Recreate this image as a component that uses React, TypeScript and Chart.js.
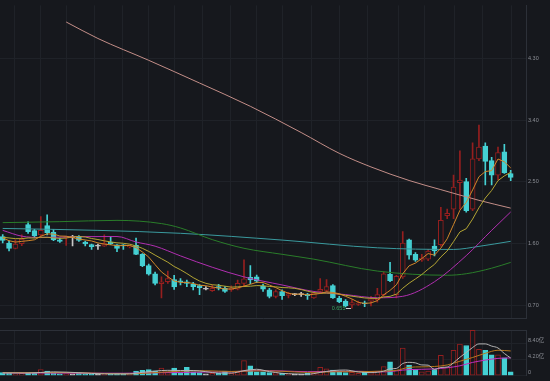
import React, { useEffect, useRef } from "react";
import { Chart, registerables } from "chart.js";

Chart.register(...registerables);

// ---------- data ----------
const openP = [1.7, 1.606, 1.526, 1.597, 1.876, 1.786, 1.724, 1.861, 1.762, 1.653,
  1.68, 1.687, 1.7, 1.621, 1.582, 1.56, 1.56, 1.621, 1.578, 1.578,
  1.55, 1.574, 1.441, 1.276, 1.157, 1.012, 1.04, 1.073, 1.054, 1.04,
  1.002, 0.983, 0.931, 0.908, 0.969, 0.945, 0.922, 0.931, 1.016, 1.104,
  1.111, 0.976, 0.922, 0.827, 0.898, 0.842, 0.852, 0.852, 0.86, 0.803,
  0.898, 0.912, 0.983, 0.803, 0.757, 0.7, 0.71, 0.728, 0.757, 0.778,
  0.852, 1.149, 0.852, 1.111, 1.653, 1.441, 1.356, 1.37, 1.56, 1.582,
  2.007, 2.102, 2.489, 2.503, 2.102, 2.835, 3.023, 2.81, 2.598, 2.938,
  2.622];
const highP = [1.73, 1.639, 1.653, 1.724, 1.914, 1.805, 1.993, 2.017, 1.805, 1.677,
  1.705, 1.72, 1.716, 1.635, 1.592, 1.592, 1.724, 1.701, 1.585, 1.585,
  1.575, 1.677, 1.451, 1.299, 1.182, 1.111, 1.196, 1.135, 1.087, 1.064,
  1.03, 0.997, 0.969, 0.993, 1.002, 0.969, 0.979, 1.064, 1.359, 1.276,
  1.139, 1.005, 0.945, 0.922, 0.922, 0.884, 0.866, 0.884, 0.87, 0.898,
  1.087, 1.073, 0.997, 0.827, 0.781, 0.781, 0.757, 0.757, 0.827, 0.945,
  1.182, 1.323, 1.135, 1.772, 1.663, 1.465, 1.441, 1.512, 1.653, 2.126,
  2.102, 2.598, 2.952, 2.551, 3.07, 3.33, 3.07, 2.857, 3.009, 3.047,
  2.669];
const lowP = [1.606, 1.489, 1.52, 1.568, 1.748, 1.68, 1.705, 1.724, 1.639, 1.616,
  1.571, 1.564, 1.63, 1.564, 1.512, 1.512, 1.557, 1.582, 1.479, 1.512,
  1.536, 1.436, 1.262, 1.135, 0.993, 0.803, 1.016, 0.927, 0.993, 0.969,
  0.922, 0.852, 0.922, 0.898, 0.922, 0.884, 0.898, 0.922, 0.979, 1.012,
  1.026, 0.898, 0.803, 0.803, 0.781, 0.803, 0.835, 0.827, 0.781, 0.795,
  0.884, 0.898, 0.795, 0.733, 0.672, 0.655, 0.693, 0.676, 0.686, 0.742,
  0.827, 1.04, 0.803, 1.087, 1.37, 1.337, 1.337, 1.347, 1.418, 1.56,
  1.961, 1.961, 2.102, 2.056, 2.078, 2.81, 2.456, 2.456, 2.527, 2.622,
  2.517];
const closeP = [1.645, 1.526, 1.592, 1.663, 1.772, 1.71, 1.79, 1.758, 1.653, 1.63,
  1.7, 1.687, 1.645, 1.592, 1.554, 1.56, 1.597, 1.597, 1.526, 1.564,
  1.568, 1.441, 1.276, 1.149, 1.016, 1.04, 1.087, 0.965, 1.04, 1.016,
  0.969, 0.955, 0.931, 0.945, 0.945, 0.898, 0.945, 1.016, 1.082, 1.068,
  1.05, 0.931, 0.827, 0.898, 0.837, 0.866, 0.852, 0.852, 0.837, 0.874,
  0.931, 0.969, 0.803, 0.747, 0.686, 0.735, 0.728, 0.718, 0.789, 0.852,
  1.157, 1.054, 1.121, 1.606, 1.427, 1.356, 1.384, 1.489, 1.489, 1.937,
  2.041, 2.424, 2.527, 2.078, 2.835, 3.009, 2.8, 2.598, 2.928, 2.631,
  2.565];
// volume in 亿
const volume = [0.8, 0.7, 0.5, 0.6, 0.9, 0.6, 1.65, 1.2, 0.7, 0.5,
  0.5, 0.5, 0.6, 0.5, 0.4, 0.4, 0.5, 0.5, 0.6, 0.4,
  0.4, 1.2, 1.4, 1.6, 1.2, 2.0, 0.9, 2.0, 0.8, 2.2,
  1.0, 0.8, 0.5, 0.6, 0.6, 1.2, 0.6, 0.9, 4.0, 2.6,
  1.0, 1.0, 0.8, 0.8, 0.6, 0.5, 0.4, 0.4, 0.6, 0.7,
  2.2, 1.8, 1.5, 1.2, 0.8, 0.9, 0.6, 1.0, 0.8, 1.2,
  2.4, 3.7, 1.5, 7.3, 2.8, 1.65, 1.0, 1.2, 1.65, 5.4,
  2.2, 6.7, 8.4, 8.0, 12.0, 7.0, 6.7, 5.5, 5.5, 4.7,
  1.0];

const ma5 = [1.68, 1.64, 1.62, 1.63, 1.64, 1.653, 1.705, 1.739, 1.737, 1.708,
  1.706, 1.686, 1.663, 1.651, 1.636, 1.608, 1.59, 1.58, 1.567, 1.569,
  1.57, 1.539, 1.475, 1.4, 1.29, 1.184, 1.114, 1.051, 1.03, 1.03,
  1.015, 0.989, 0.982, 0.963, 0.949, 0.935, 0.933, 0.95, 0.977, 1.002,
  1.032, 1.029, 0.992, 0.955, 0.909, 0.872, 0.856, 0.861, 0.849, 0.856,
  0.869, 0.893, 0.883, 0.865, 0.827, 0.788, 0.74, 0.723, 0.731, 0.764,
  0.849, 0.914, 0.995, 1.158, 1.273, 1.313, 1.379, 1.452, 1.429, 1.531,
  1.668, 1.876, 2.084, 2.201, 2.381, 2.575, 2.65, 2.664, 2.834, 2.793,
  2.704];
const ma10 = [1.69, 1.68, 1.67, 1.67, 1.68, 1.68, 1.69, 1.69, 1.68, 1.674,
  1.679, 1.696, 1.701, 1.694, 1.672, 1.657, 1.638, 1.622, 1.609, 1.602,
  1.589, 1.564, 1.528, 1.483, 1.429, 1.377, 1.326, 1.263, 1.215, 1.16,
  1.1, 1.051, 1.017, 0.996, 0.989, 0.975, 0.961, 0.966, 0.97, 0.975,
  0.984, 0.981, 0.971, 0.966, 0.955, 0.952, 0.943, 0.926, 0.902, 0.882,
  0.871, 0.874, 0.872, 0.857, 0.842, 0.829, 0.816, 0.803, 0.798, 0.796,
  0.818, 0.827, 0.859, 0.945, 1.019, 1.081, 1.146, 1.224, 1.294, 1.402,
  1.49, 1.627, 1.768, 1.815, 1.956, 2.121, 2.263, 2.374, 2.518, 2.587,
  2.64];
const ma30Idx = [0, 3, 6, 12, 18, 21, 24, 28, 33, 38, 44, 49, 54, 59, 63, 68, 73, 77, 80];
const ma30 = [1.791, 1.706, 1.687, 1.699, 1.701, 1.621, 1.56, 1.418, 1.252, 1.111, 0.993, 0.898, 0.852, 0.806, 0.827, 1.04, 1.422, 1.791, 2.06];
const ma60Idx = [0, 9, 18, 25, 28, 33, 38, 44, 49, 59, 70, 73, 77, 80];
const ma60 = [1.904, 1.918, 1.937, 1.89, 1.826, 1.656, 1.529, 1.441, 1.37, 1.196, 1.135, 1.157, 1.238, 1.323];
const ma120Idx = [0, 15, 28, 44, 59, 71, 75, 80];
const ma120 = [1.819, 1.791, 1.748, 1.649, 1.536, 1.512, 1.557, 1.631];
const ma250Idx = [10, 15, 23, 31, 39, 47, 53, 58, 64, 69, 75, 80];
const ma250 = [4.836, 4.595, 4.276, 3.944, 3.604, 3.221, 2.917, 2.718, 2.52, 2.386, 2.23, 2.116];

const volMa5Idx = [0, 4, 8, 12, 16, 20, 22, 24, 26, 28, 30, 32, 34, 36, 38, 40, 42, 44, 46, 48, 50, 52, 54, 56, 58, 60, 61, 62, 63, 64, 65, 66, 67, 68, 69, 70, 71, 72, 73, 74, 75, 76, 77, 78, 79, 80];
const volMa5 = [0.75, 0.7, 1.01, 0.8, 0.48, 0.48, 0.9, 1.24, 1.42, 1.38, 1.38, 1.06, 0.7, 0.7, 1.34, 1.7, 1.08, 0.64, 0.46, 0.38, 0.86, 1.36, 1.5, 1.0, 0.82, 1.2, 1.82, 1.92, 3.22, 3.54, 3.39, 2.85, 2.79, 1.66, 2.18, 2.29, 3.43, 4.87, 6.14, 7.46, 8.42, 8.42, 7.84, 7.34, 5.88, 4.68];
const volMa10Idx = [0, 9, 12, 16, 20, 24, 28, 32, 36, 40, 44, 48, 52, 56, 60, 62, 64, 66, 68, 70, 72, 74, 76, 78, 80];
const volMa10 = [0.8, 0.82, 0.78, 0.58, 0.48, 0.82, 1.19, 1.3, 1.12, 1.28, 1.17, 0.87, 1.03, 1.07, 1.22, 1.41, 2.22, 2.34, 2.44, 2.84, 3.83, 4.82, 5.93, 6.74, 6.55];
const volMa20Idx = [0, 19, 24, 28, 32, 36, 40, 44, 48, 52, 56, 60, 64, 68, 72, 74, 76, 78, 80];
const volMa20 = [0.75, 0.65, 0.77, 0.85, 0.97, 1.03, 1.36, 1.25, 1.06, 1.14, 1.17, 1.01, 1.62, 1.8, 2.62, 3.52, 4.13, 4.59, 4.7];

const priceTicks = [0.7, 1.6, 2.5, 3.4, 4.3];
const volTicks = [0, 4.2, 8.4];
const volTickLabels = ["0", "4.20亿", "8.40亿"];

// ---------- style ----------
const BG = "#16181d";
const GRID = "#1f2228";
const AXIS = "#2c3038";
const TICK = "#8b8e95";
const UP = "#951f1f";
const DOWN = "#45d0d3";
const FLAT = "#c8c8c8";
const FONT = "'Liberation Sans', 'Noto Sans CJK SC', sans-serif";
const gridIdx = [1.9, 5.9, 10.1, 14.5, 18.8, 22.9, 27.1, 31.5, 35.8, 40.0, 44.0, 48.7, 53.1, 57.5, 62.3, 66.5, 71.2, 75.6, 80.2];
const X_MIN = -0.425;
const X_MAX = 82.41;

const idx = openP.map((_, i) => i);
const colorOf = (i: number) => (closeP[i] > openP[i] ? UP : closeP[i] < openP[i] ? DOWN : FLAT);
const fillOf = (i: number) => (closeP[i] > openP[i] ? BG : colorOf(i));
const pts = (xs: number[], ys: number[]) => xs.map((x, k) => ({ x, y: ys[k] }));

const lineDs = (data: any[], color: string, tension = 0) => ({
  type: "line" as const,
  data,
  borderColor: color,
  borderWidth: 1,
  pointRadius: 0,
  fill: false,
  tension,
  cubicInterpolationMode: tension ? ("monotone" as const) : ("default" as const),
  order: -1,
});

const xScale = (extra: any = {}) => ({
  type: "linear",
  min: X_MIN,
  max: X_MAX,
  offset: false,
  grid: { color: GRID, drawTicks: false, offset: false },
  border: { display: true, color: AXIS },
  ticks: { display: false },
  afterBuildTicks: (s: any) => {
    s.ticks = gridIdx.map((v) => ({ value: v }));
  },
  afterFit: (s: any) => {
    s.height = 0;
  },
  ...extra,
});

const lowMarker = {
  id: "lowMarker",
  afterDatasetsDraw(chart: any) {
    const { ctx, scales } = chart;
    let li = 0;
    lowP.forEach((v, i) => {
      if (v < lowP[li]) li = i;
    });
    const px = scales.x.getPixelForValue(li);
    const py = Math.round(scales.y.getPixelForValue(lowP[li])) + 0.5;
    ctx.save();
    ctx.strokeStyle = "#d0d0d0";
    ctx.lineWidth = 1;
    ctx.beginPath();
    ctx.moveTo(px - 6, py);
    ctx.lineTo(px - 1, py);
    ctx.stroke();
    ctx.fillStyle = "#3aa262";
    ctx.font = "5.5px " + FONT;
    ctx.textAlign = "right";
    ctx.textBaseline = "middle";
    ctx.fillText(lowP[li].toFixed(3), px - 6.5, py);
    ctx.restore();
  },
};

export default function App() {
  const mainRef = useRef<HTMLCanvasElement>(null);
  const volRef = useRef<HTMLCanvasElement>(null);

  useEffect(() => {
    document.body.style.margin = "0";
    document.body.style.background = BG;

    const main = new Chart(mainRef.current as HTMLCanvasElement, {
      type: "bar",
      data: {
        datasets: [
          lineDs(pts(idx, ma5), "#d2872a"),
          lineDs(pts(idx, ma10), "#b3a534"),
          lineDs(pts(ma30Idx, ma30), "#b12fb0", 0.4),
          lineDs(pts(ma60Idx, ma60), "#2a7d2a", 0.4),
          lineDs(pts(ma120Idx, ma120), "#3a9a9e", 0.4),
          lineDs(pts(ma250Idx, ma250), "#c38e88", 0.4),
          {
            type: "bar",
            data: idx.map((i) => ({ x: i, y: [openP[i], closeP[i]] })),
            backgroundColor: idx.map(fillOf),
            borderColor: idx.map(colorOf),
            borderWidth: 1,
            borderSkipped: false,
            barThickness: 5,
            minBarLength: 1,
            grouped: false,
            order: 0,
          },
          {
            type: "bar",
            data: idx.map((i) => ({ x: i, y: [lowP[i], highP[i]] })),
            backgroundColor: idx.map(colorOf),
            borderWidth: 0,
            barThickness: 1,
            grouped: false,
            order: 1,
          },
        ] as any,
      },
      options: {
        responsive: false,
        animation: false,
        devicePixelRatio: 1,
        events: [],
        layout: { padding: { top: 0, bottom: 1, left: 0, right: 0 } },
        plugins: { legend: { display: false }, tooltip: { enabled: false } },
        scales: {
          x: xScale() as any,
          y: {
            type: "linear",
            position: "right",
            min: 0.5,
            max: 5.08,
            grid: { color: GRID, drawTicks: false },
            border: { display: true, color: AXIS },
            ticks: {
              color: TICK,
              font: { size: 5.5, family: FONT },
              padding: 2,
              callback: (v: any) => Number(v).toFixed(2),
            },
            afterBuildTicks: (s: any) => {
              s.ticks = priceTicks.map((v) => ({ value: v }));
            },
            afterFit: (s: any) => {
              s.width = 24;
            },
          } as any,
        },
      },
      plugins: [lowMarker],
    });

    const vol = new Chart(volRef.current as HTMLCanvasElement, {
      type: "bar",
      data: {
        datasets: [
          lineDs(pts(volMa5Idx, volMa5), "#b4b4b4", 0.4),
          lineDs(pts(volMa10Idx, volMa10), "#b8791f", 0.4),
          lineDs(pts(volMa20Idx, volMa20), "#c12fc0", 0.4),
          {
            type: "bar",
            data: idx.map((i) => ({ x: i, y: volume[i] })),
            backgroundColor: idx.map(fillOf),
            borderColor: idx.map(colorOf),
            borderWidth: 1,
            borderSkipped: false,
            barThickness: 5,
            grouped: false,
            order: 0,
          },
        ] as any,
      },
      options: {
        responsive: false,
        animation: false,
        devicePixelRatio: 1,
        events: [],
        layout: { padding: { top: 6, bottom: 2, left: 0, right: 0 } },
        plugins: { legend: { display: false }, tooltip: { enabled: false } },
        scales: {
          x: xScale({ border: { display: false } }) as any,
          xTop: {
            type: "linear",
            axis: "x",
            position: "top",
            min: X_MIN,
            max: X_MAX,
            grid: { display: false },
            border: { display: true, color: AXIS },
            ticks: { display: false },
            afterFit: (s: any) => {
              s.height = 0;
            },
          } as any,
          y: {
            type: "linear",
            position: "right",
            min: 0,
            max: 12.1,
            grid: { color: GRID, drawTicks: false },
            border: { display: true, color: AXIS },
            ticks: {
              color: TICK,
              font: { size: 5.5, family: FONT },
              padding: 2,
              labelOffset: -3,
              callback: (v: any) => {
                const k = volTicks.indexOf(Number(v));
                return k >= 0 ? volTickLabels[k] : "";
              },
            },
            afterBuildTicks: (s: any) => {
              s.ticks = volTicks.map((v) => ({ value: v }));
            },
            afterFit: (s: any) => {
              s.width = 24;
            },
          } as any,
        },
      },
    });

    return () => {
      main.destroy();
      vol.destroy();
    };
  }, []);

  return (
    <div style={{ width: 550, height: 381, background: BG, overflow: "hidden" }}>
      <canvas ref={mainRef} width={550} height={324} style={{ display: "block" }} />
      <canvas ref={volRef} width={550} height={57} style={{ display: "block" }} />
    </div>
  );
}
